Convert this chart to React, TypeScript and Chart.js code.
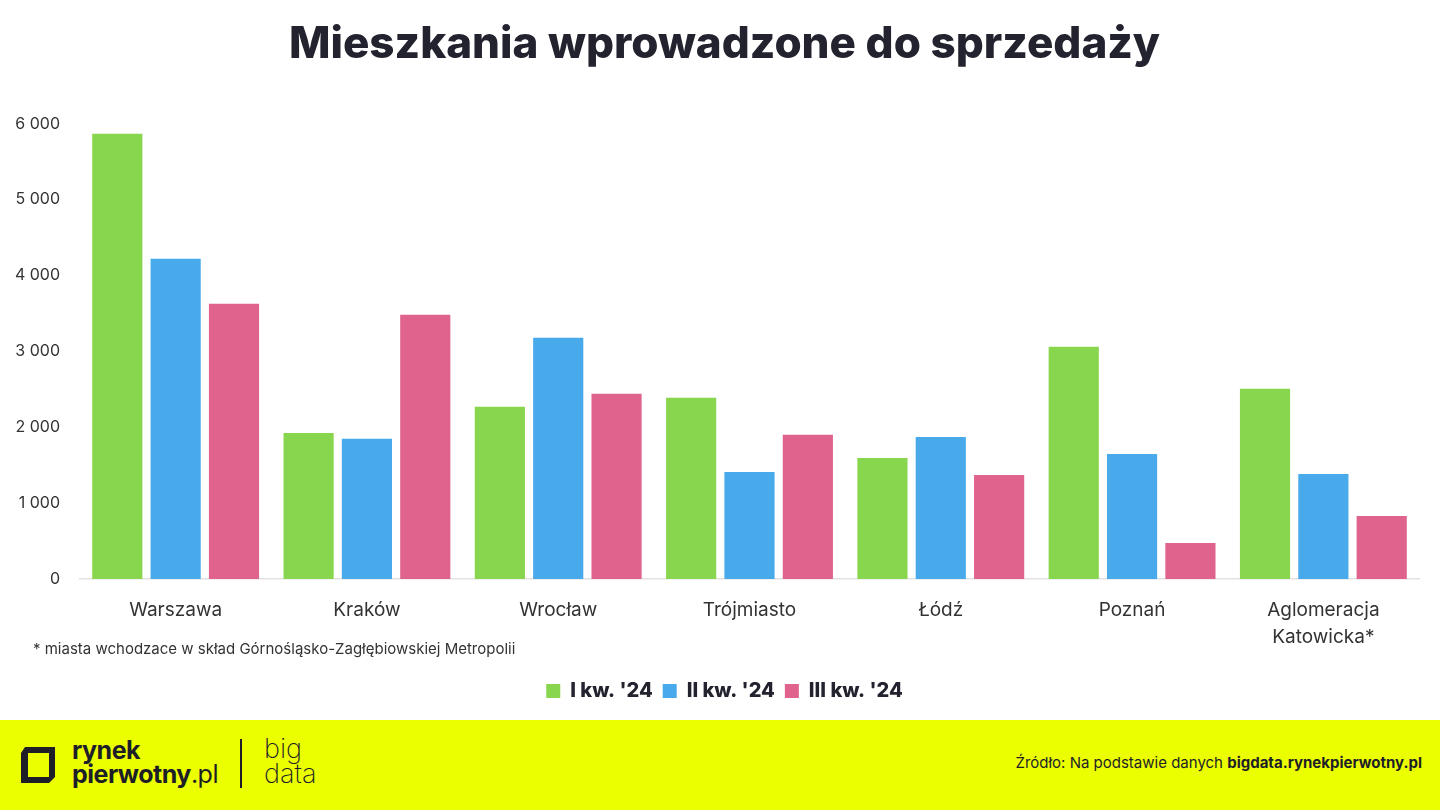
import React, { useEffect, useRef } from "react";
import { Chart, registerables } from "chart.js";

Chart.register(...registerables);

const categories: (string | string[])[] = [
  "Warszawa",
  "Kraków",
  "Wrocław",
  "Trójmiasto",
  "Łódź",
  "Poznań",
  ["Aglomeracja", "Katowicka*"],
];
const seriesNames = ["I kw. '24", "II kw. '24", "III kw. '24"];
const q1Values = [5870, 1926, 2269, 2388, 1596, 3061, 2507];
const q2Values = [4222, 1847, 3179, 1412, 1873, 1649, 1385];
const q3Values = [3628, 3483, 2441, 1900, 1372, 475, 831];
const seriesColors = ["#88D64E", "#48AAEB", "#E0638E"];
const yTicks = [0, 1000, 2000, 3000, 4000, 5000, 6000];

const FONT = "Inter, 'Open Sans', sans-serif";
const DARK = "#23232f";

function fmt(v: number): string {
  return String(v).replace(/\B(?=(\d{3})+(?!\d))/g, " ");
}

function LogoIcon() {
  return (
    <svg width="38" height="40" viewBox="0 0 38 40">
      <path
        d="M6 2 H36 V32 L30 38 H2 V8 Z M9 8 V32 H30 V8 Z"
        fill="#1e1e28"
        fillRule="evenodd"
      />
    </svg>
  );
}

export default function App() {
  const canvasRef = useRef<HTMLCanvasElement | null>(null);

  useEffect(() => {
    const canvas = canvasRef.current;
    if (!canvas) return;
    const datasets = [q1Values, q2Values, q3Values].map((vals, i) => ({
      label: seriesNames[i],
      data: vals,
      backgroundColor: seriesColors[i],
      borderWidth: 0,
      categoryPercentage: 0.915,
      barPercentage: 0.86,
      yAxisID: "y",
    }));
    const chart = new Chart(canvas, {
      type: "bar",
      data: { labels: categories, datasets },
      options: {
        animation: false,
        responsive: false,
        layout: { padding: { top: 0, left: 9, right: 0, bottom: 9 } },
        plugins: {
          title: {
            display: true,
            text: "Mieszkania wprowadzone do sprzedaży",
            color: DARK,
            font: { family: FONT, size: 44, weight: "800" as any, lineHeight: 1.2 },
            padding: { top: 18, bottom: 53 },
          },
          legend: {
            position: "bottom",
            labels: {
              boxWidth: 14,
              boxHeight: 14,
              padding: 10,
              color: DARK,
              font: { family: FONT, size: 20, weight: "800" as any },
            },
          },
          tooltip: { enabled: false },
        },
        scales: {
          x: {
            grid: { display: false, drawTicks: false },
            border: { display: true, color: "#e2e2e2", width: 1.5 },
            ticks: {
              color: "#333",
              padding: 18,
              font: { family: FONT, size: 19, lineHeight: 1.42 },
              maxRotation: 0,
              autoSkip: false,
            },
            afterFit: (scale: any) => {
              scale.height = 92;
            },
          },
          y: {
            min: 0,
            max: 6000,
            afterBuildTicks: (scale: any) => {
              scale.ticks = yTicks.map((v) => ({ value: v }));
            },
            grid: { display: false, drawTicks: false },
            border: { display: false },
            ticks: {
              color: "#333",
              padding: 20,
              font: { family: FONT, size: 16 },
              callback: (v: any) => fmt(Number(v)),
            },
            afterFit: (scale: any) => {
              scale.width = 71;
            },
          },
          yRight: {
            position: "right",
            min: 0,
            max: 6000,
            grid: { display: false, drawTicks: false },
            border: { display: false },
            ticks: { display: false },
            afterFit: (scale: any) => {
              scale.width = 21;
            },
          },
        },
      },
    });
    return () => chart.destroy();
  }, []);

  return (
    <div
      style={{
        position: "absolute",
        left: 0,
        top: 0,
        width: 1440,
        height: 810,
        background: "#fff",
        overflow: "hidden",
        fontFamily: FONT,
      }}
    >
      <canvas
        ref={canvasRef}
        width={1440}
        height={720}
        style={{ position: "absolute", left: 0, top: 0, width: 1440, height: 720 }}
      />
      <div
        style={{
          position: "absolute",
          left: 33,
          top: 639,
          fontSize: 15,
          color: "#333",
          whiteSpace: "nowrap",
        }}
      >
        * miasta wchodzace w skład Górnośląsko-Zagłębiowskiej Metropolii
      </div>
      <div
        style={{
          position: "absolute",
          left: 0,
          top: 720,
          width: 1440,
          height: 90,
          background: "#EBFF00",
        }}
      >
        <div style={{ position: "absolute", left: 19, top: 25 }}>
          <LogoIcon />
        </div>
        <div
          style={{
            position: "absolute",
            left: 72,
            top: 18,
            fontSize: 25,
            fontWeight: 700,
            lineHeight: "24px",
            color: "#1e1e28",
            letterSpacing: -0.5,
          }}
        >
          <div>rynek</div>
          <div>
            pierwotny<span style={{ fontWeight: 400 }}>.pl</span>
          </div>
        </div>
        <div
          style={{
            position: "absolute",
            left: 240,
            top: 19,
            width: 1.5,
            height: 49,
            background: "#1e1e28",
          }}
        />
        <div
          style={{
            position: "absolute",
            left: 264,
            top: 16,
            fontSize: 27,
            fontWeight: 200,
            lineHeight: "25px",
            color: "#1e1e28",
          }}
        >
          <div>big</div>
          <div>data</div>
        </div>
        <div
          style={{
            position: "absolute",
            right: 18,
            top: 33,
            fontSize: 15,
            color: "#1e1e28",
            whiteSpace: "nowrap",
          }}
        >
          Źródło: Na podstawie danych <b>bigdata.rynekpierwotny.pl</b>
        </div>
      </div>
    </div>
  );
}
